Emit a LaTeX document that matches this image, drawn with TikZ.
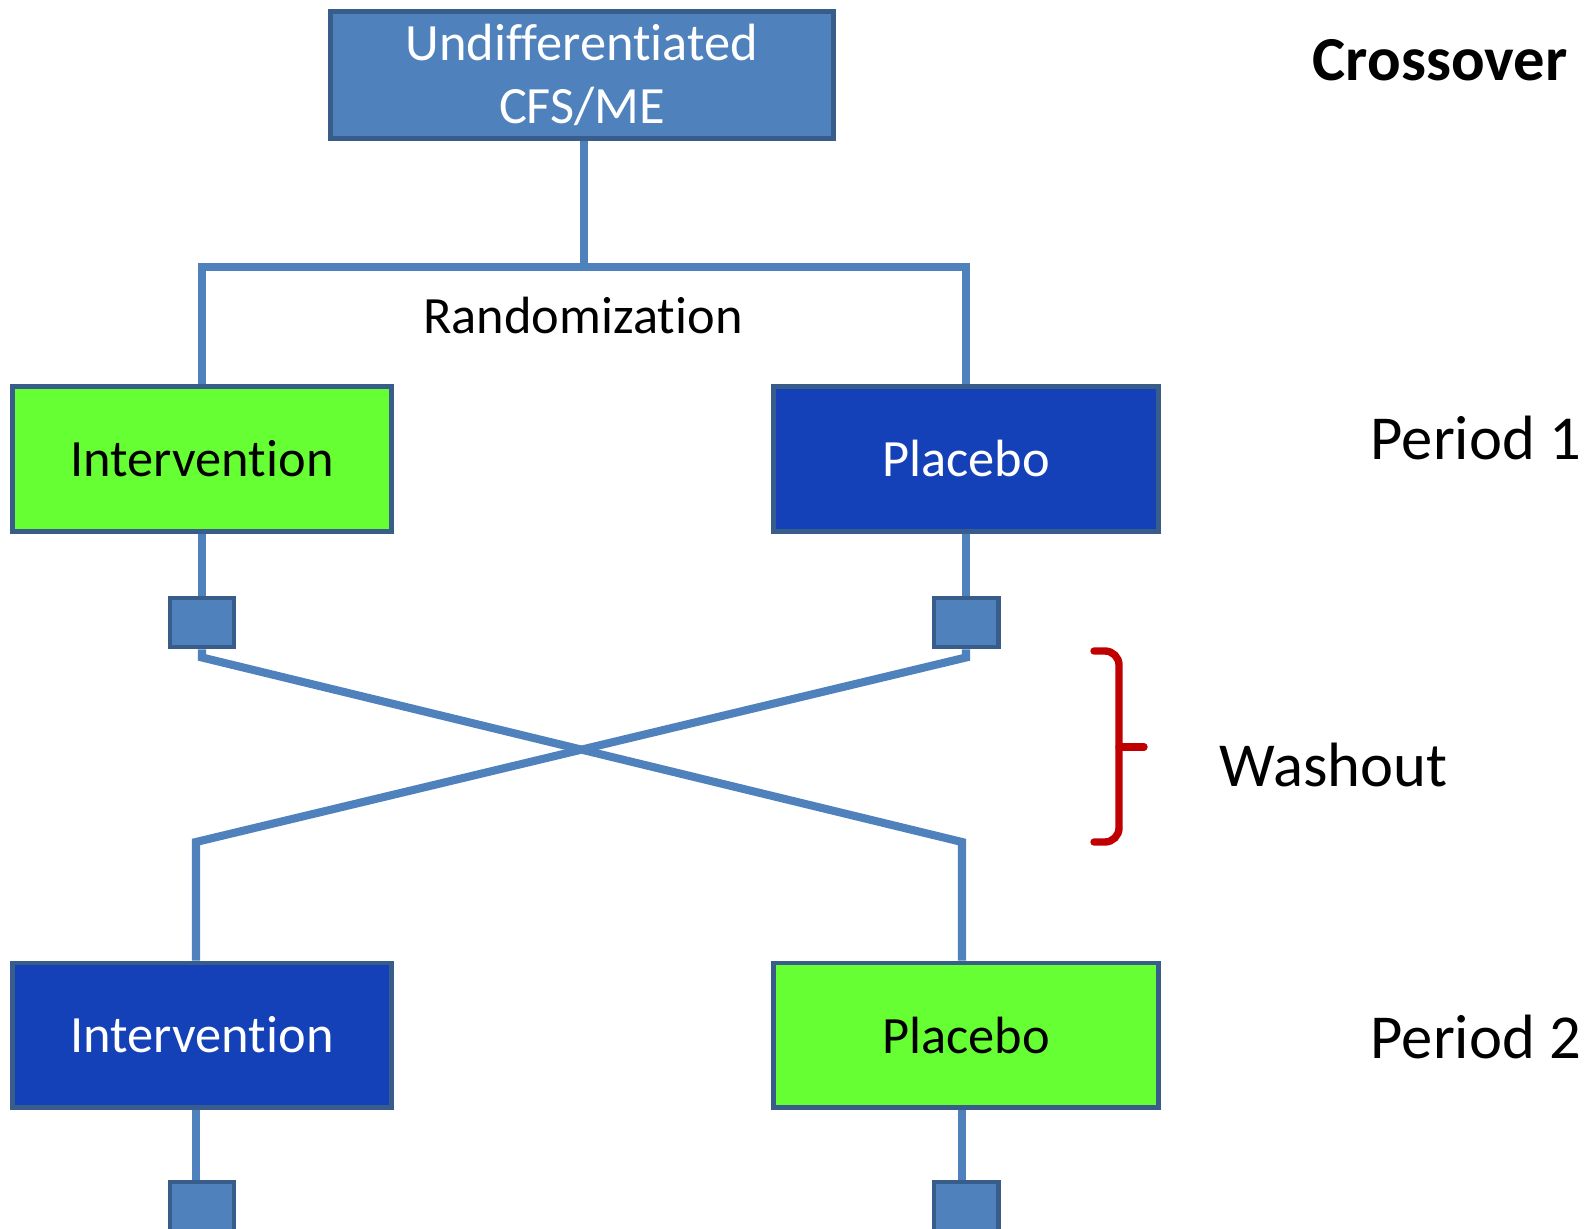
\documentclass[tikz,border=0pt]{standalone}
\usepackage{fontspec}
\setmainfont{Carlito}[Ligatures=NoCommon]
\usepackage{xcolor}
\usepackage{tikz}
\usetikzlibrary{positioning}

\definecolor{linkblue}{HTML}{4F81BD}
\definecolor{edgeblue}{HTML}{385D8A}
\definecolor{armgreen}{HTML}{66FF33}
\definecolor{armblue}{HTML}{1541B8}
\definecolor{bracered}{HTML}{C00000}

\begin{document}
\begin{tikzpicture}[x=0.01cm, y=-0.01cm, node distance=0.62cm,
	box/.style={draw=edgeblue, line width=1.4pt, minimum width=3.78cm, minimum height=1.44cm, font=\fontsize{14.9}{17.9}\selectfont},
	drug/.style={box, fill=armgreen, text=black},
	dummy/.style={box, fill=armblue, text=white},
	visit/.style={draw=edgeblue, fill=linkblue, line width=1.4pt, minimum width=0.64cm, minimum height=0.49cm, inner sep=0pt},
	link/.style={draw=linkblue, line width=2.3pt},
	tag/.style={font=\fontsize{17.8}{21}\selectfont, inner sep=0pt},
	washbrace/.style={draw=bracered, line width=2.1pt, line cap=round}]

		\useasboundingbox (0,0) rectangle (1595,1228);

		\node[box, fill=linkblue, text=white, minimum width=5.02cm, minimum height=1.27cm, align=center] (pool) at (582,75) {Undifferentiated\\CFS/ME};

		\node[drug] (int1) at (202,459) {Intervention};
		\node[dummy, minimum width=3.85cm] (plc1) at (966,459) {Placebo};
		\node[dummy] (int2) at (202,1035) {Intervention};
		\node[drug, minimum width=3.85cm] (plc2) at (966,1035) {Placebo};

		\node[visit, below=of int1] (v1) {};
		\node[visit, below=of plc1] (v2) {};
		\node[visit, below=0.7cm of int2] (v3) {};
		\node[visit, below=0.7cm of plc2] (v4) {};

		\coordinate (split) at (584,267);
		\coordinate (turnL) at (196,842);
		\coordinate (turnR) at (962,842);

		\draw[link] (pool.south -| split) -- (split);
		\draw[link] (int1.north) |- (split) -| (plc1.north);
		\draw[link] (int1) -- (v1);
		\draw[link] (plc1) -- (v2);
		\draw[link] (v1.south) -- ++(0,8) -- (turnR) -- (plc2.north -| turnR);
		\draw[link] (v2.south) -- ++(0,8) -- (turnL) -- (int2.north -| turnL);
		\draw[link] (int2.south -| turnL) -- (v3.north -| turnL);
		\draw[link] (plc2.south -| turnR) -- (v4.north -| turnR);

		\node[tag, font=\bfseries\fontsize{17.8}{21}\selectfont, anchor=base east] (design) at (1568,81) {Crossover};
		\node[inner sep=0pt, font=\fontsize{14.9}{17.9}\selectfont, anchor=base] (rand) at (583,334) {Randomization};
		\node[tag, anchor=base west] (per1) at (1370,459) {Period 1};
		\node[tag, anchor=base west] (per2) at (1370,1058) {Period 2};
		\node[tag, anchor=base west] (wash) at (1219,786) {Washout};

		\draw[washbrace, rounded corners=4pt] (1094,651) -- (1119,651) -- (1119,842) -- (1094,842);
		\draw[washbrace] (1119,747) -- (1144,747);

\end{tikzpicture}
\end{document}
